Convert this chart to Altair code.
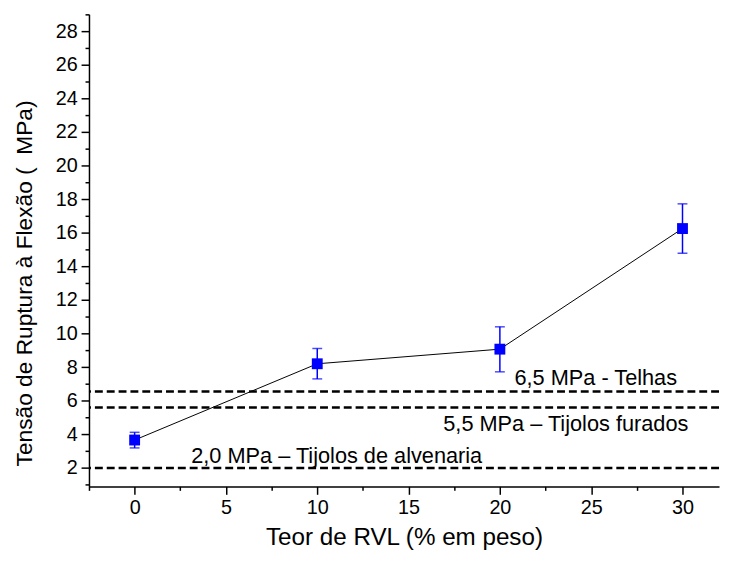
import altair as alt
import pandas as pd

# Dados
teor = [0, 10, 20, 30]
tensao = [3.66, 8.2, 9.07, 16.25]
erro_sup = [4.12, 9.11, 10.4, 17.72]
erro_inf = [3.19, 7.3, 7.72, 14.78]

ref_valores = [6.55, 5.6, 2.0]
ref_textos = ["6,5 MPa - Telhas", "5,5 MPa – Tijolos furados", "2,0 MPa – Tijolos de alvenaria"]
ref_texto_x = [20.8, 16.9, 3.1]
ref_texto_y = [6.95, 4.2, 2.3]

x_major = [0, 5, 10, 15, 20, 25, 30]
x_minor = [-2.5, 2.5, 7.5, 12.5, 17.5, 22.5, 27.5]
y_major = list(range(2, 29, 2))
y_minor = list(range(1, 30, 2))

x_dom = [-2.5, 32]
y_dom = [0.9, 29]

FONT = "Liberation Sans"

df = pd.DataFrame({"teor": teor, "tensao": tensao, "sup": erro_sup, "inf": erro_inf})
df_ref = pd.DataFrame({"valor": ref_valores})
df_txt = pd.DataFrame({"texto": ref_textos, "x": ref_texto_x, "y": ref_texto_y})
df_minor = pd.DataFrame({"x": [x_dom[0]], "y": [y_dom[0]]})

xs = alt.Scale(domain=x_dom, nice=False, zero=False)
ys = alt.Scale(domain=y_dom, nice=False, zero=False)

# Major axes layer (reference lines)
ref = alt.Chart(df_ref).mark_rule(color="black", strokeWidth=2.5, strokeDash=[8, 4]).encode(
    y=alt.Y("valor:Q", scale=ys,
            axis=alt.Axis(values=y_major, orient="left", title="Tensão de Ruptura à Flexão ( \u00a0MPa)",
                          titlePadding=19, tickSize=8, labelPadding=4, titleFontSize=23, titleY=272)),
)

xaxis_layer = alt.Chart(df_minor).mark_point(opacity=0).encode(
    x=alt.X("x:Q", scale=xs,
            axis=alt.Axis(values=x_major, orient="bottom", title="Teor de RVL (% em peso)",
                          titlePadding=9, tickSize=8, labelPadding=3, titleFontSize=24.5)),
    y=alt.Y("y:Q", scale=ys, axis=None),
)

minor = alt.Chart(df_minor).mark_point(opacity=0).encode(
    x=alt.X("x:Q", scale=xs,
            axis=alt.Axis(values=x_minor, orient="bottom", labels=False, title=None, domain=False, tickSize=4)),
    y=alt.Y("y:Q", scale=ys,
            axis=alt.Axis(values=y_minor, orient="left", labels=False, title=None, domain=False, tickSize=4)),
)

base = alt.Chart(df).encode(x=alt.X("teor:Q", scale=xs, axis=None))

linha = base.mark_line(color="black", strokeWidth=1).encode(y=alt.Y("tensao:Q", scale=ys, axis=None))
barras = base.mark_rule(color="#0000ff", strokeWidth=1.5).encode(
    y=alt.Y("inf:Q", scale=ys, axis=None), y2="sup:Q")
cap_sup = base.mark_tick(color="#0000ff", orient="horizontal", size=10, thickness=1.5).encode(
    y=alt.Y("sup:Q", scale=ys, axis=None))
cap_inf = base.mark_tick(color="#0000ff", orient="horizontal", size=10, thickness=1.5).encode(
    y=alt.Y("inf:Q", scale=ys, axis=None))
pontos = base.mark_square(color="#0000ff", size=121, opacity=1).encode(
    y=alt.Y("tensao:Q", scale=ys, axis=None))

textos = alt.Chart(df_txt).mark_text(align="left", baseline="alphabetic", font=FONT, fontSize=22,
                                     color="black").encode(
    x=alt.X("x:Q", scale=xs, axis=None),
    y=alt.Y("y:Q", scale=ys, axis=None),
    text="texto:N",
)

chart = alt.layer(ref, xaxis_layer, minor, linha, barras, cap_sup, cap_inf, pontos, textos).resolve_axis(
    x="independent", y="independent"
).properties(
    width=638, height=478, padding={"left": 5, "top": 2, "right": 0, "bottom": 0}
).configure_view(stroke=None).configure_axis(
    grid=False,
    labelFont=FONT, titleFont=FONT,
    labelFontSize=20, titleFontWeight="normal",
    labelColor="black", titleColor="black",
    domainColor="black", domainWidth=1.5,
    tickColor="black", tickWidth=1.5,
)

chart.save("out.html", embed_options={"renderer": "svg", "actions": False})
